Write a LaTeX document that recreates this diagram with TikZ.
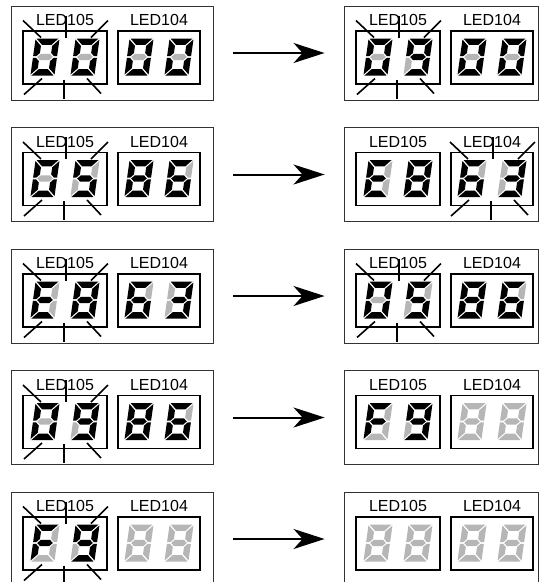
\documentclass[tikz,border=0pt]{standalone}
\usepackage{fontspec}
\setmainfont{Liberation Sans}
\usepackage{tikz}
\usetikzlibrary{positioning,arrows.meta}
\usepackage{xcolor}
\definecolor{segoff}{RGB}{182,182,182}

\newcommand{\Dzero}{1111110}
\newcommand{\Dthree}{1111001}
\newcommand{\Dfive}{1011011}
\newcommand{\Dsix}{1011111}
\newcommand{\Deight}{1111111}
\newcommand{\Dnine}{1111011}
\newcommand{\DE}{1001111}
\newcommand{\DF}{1000111}
\newcommand{\Doff}{0000000}

\newcommand{\sevenseg}[7]{%
  \begin{scope}[xslant=0.14]
    \fill[seg#1] (-11,18.5) -- (11,18.5) -- (4.6,12.1) -- (-4.6,12.1) -- cycle;
    \fill[seg#2] (12,17.5) -- (12,0.9) -- (8.8,0.9) -- (5.6,4.1) -- (5.6,11.1) -- cycle;
    \fill[seg#3] (12,-17.5) -- (12,-0.9) -- (8.8,-0.9) -- (5.6,-4.1) -- (5.6,-11.1) -- cycle;
    \fill[seg#4] (-11,-18.5) -- (11,-18.5) -- (4.6,-12.1) -- (-4.6,-12.1) -- cycle;
    \fill[seg#5] (-12,-17.5) -- (-12,-0.9) -- (-8.8,-0.9) -- (-5.6,-4.1) -- (-5.6,-11.1) -- cycle;
    \fill[seg#6] (-12,17.5) -- (-12,0.9) -- (-8.8,0.9) -- (-5.6,4.1) -- (-5.6,11.1) -- cycle;
    \fill[seg#7] (-7.8,0) -- (-4.6,3.1) -- (4.6,3.1) -- (7.8,0) -- (4.6,-3.1) -- (-4.6,-3.1) -- cycle;
  \end{scope}}

\newcommand{\panel}[7]{%
  \begin{scope}[shift={#2}]
    \node[frame, minimum width=#3] (#1) at (#3/2,-47) {};
    \node[win, minimum width=84] (#1a) at (54,-51.5) {};
    \node[win, minimum width=82] (#1b) at (148,-51.5) {};
    \node[lbl, above=4pt of #1a] (#1ta) {LED105};
    \node[lbl, above=4pt of #1b] (#1tb) {LED104};
    \pic at (34,-51) {led=#4};
    \pic at (74,-51) {led=#5};
    \pic at (128,-51) {led=#6};
    \pic at (168,-51) {led=#7};
  \end{scope}}

\newcommand{\blink}[1]{%
  \foreach \xa/\ya/\xb/\yb in {-42/37/-24/20, 1/42/1/20, 43/37/26/20,
      -23/-21/-41/-37, -1/-22/-1/-41, 22/-21/36/-36}
    \draw[ray] ([shift={(\xa,\ya)}]#1.center) -- ([shift={(\xb,\yb)}]#1.center);}

\begin{document}
\begin{tikzpicture}[x=1pt, y=1pt,
  frame/.style={draw=black!80, line width=0.9pt, minimum height=94, inner sep=0},
  win/.style={draw, line width=1.5pt, minimum height=53, inner sep=0},
  lbl/.style={inner sep=0, font=\fontsize{16}{18}\selectfont},
  seg1/.style={fill=black},
  seg0/.style={fill=segoff},
  pics/led/.style={code={\expandafter\sevenseg#1}},
  ray/.style={line width=1.6pt},
  arr/.style={-{Stealth[length=31pt, width=20pt, inset=9pt]}, line width=2pt,
    shorten <=20pt, shorten >=19pt}]
\useasboundingbox (0,0) rectangle (540,-582);

\panel{L1}{(11,-6)}{202}{\Dzero}{\Dzero}{\Dzero}{\Dzero}
\panel{R1}{(344,-6)}{194}{\Dzero}{\Dnine}{\Dzero}{\Dzero}
\panel{L2}{(11,-127.5)}{202}{\Dzero}{\Dfive}{\Deight}{\Dsix}
\panel{R2}{(344,-127.5)}{194}{\DE}{\Deight}{\Dsix}{\Dthree}
\panel{L3}{(11,-249)}{202}{\DE}{\Deight}{\Dsix}{\Dthree}
\panel{R3}{(344,-249)}{194}{\Dzero}{\Dfive}{\Deight}{\Dsix}
\panel{L4}{(11,-370.5)}{202}{\Dzero}{\Dnine}{\Deight}{\Dsix}
\panel{R4}{(344,-370.5)}{194}{\DF}{\Dnine}{\Doff}{\Doff}
\panel{L5}{(11,-492)}{202}{\DF}{\Dnine}{\Doff}{\Doff}
\panel{R5}{(344,-492)}{194}{\Doff}{\Doff}{\Doff}{\Doff}

\blink{L1a} \blink{R1a}
\blink{L2a} \blink{R2b}
\blink{L3a} \blink{R3a}
\blink{L4a}
\blink{L5a}

\foreach \r in {1,...,5}
  \draw[arr] (L\r) -- (R\r);
\end{tikzpicture}
\end{document}
